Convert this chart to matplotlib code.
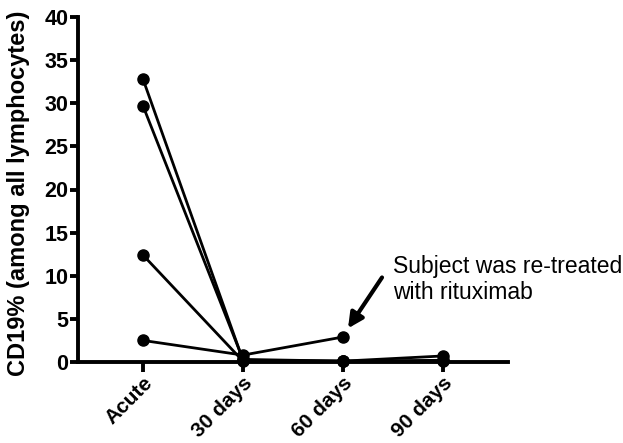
import numpy as np
import matplotlib
matplotlib.use("Agg")
import matplotlib.pyplot as plt

plt.rcParams['font.family'] = ['Liberation Sans', 'DejaVu Sans']

categories = ["Acute", "30 days", "60 days", "90 days"]
s1 = [32.8, 0.2, 0.1, 0.7]
s2 = [29.7, 0.3, 0.1, 0.2]
s3 = [12.4, 0.1, 0.1, 0.1]
s4 = [2.5, 0.8, 2.9, np.nan]
series = [s1, s2, s3, s4]
yticks = [0, 5, 10, 15, 20, 25, 30, 35, 40]

fig = plt.figure(figsize=(6.23, 4.43), dpi=100)
ax = fig.add_axes([78/623, 1-362/443, (508-78)/623, (362-17)/443])
x = np.arange(len(categories))
for s in series:
    ax.plot(x, s, color='black', lw=2.0, marker='o', ms=8, clip_on=False, zorder=3)

ax.set_xlim(-0.65, 3.65)
ax.set_ylim(0, 40)
ax.set_yticks(yticks)
ax.set_xticks(x)
ax.set_xticklabels(categories, rotation=45, ha='right', rotation_mode='anchor',
                   fontsize=15, fontweight='bold')
for lab in ax.get_yticklabels():
    lab.set_fontsize(15.5)
    lab.set_fontweight('bold')
ax.spines['top'].set_visible(False)
ax.spines['right'].set_visible(False)
ax.spines['left'].set_linewidth(2.8)
ax.spines['bottom'].set_linewidth(2.8)
ax.tick_params(axis='y', width=2.8, length=6, direction='out', pad=1)
ax.tick_params(axis='x', width=2.8, length=7, direction='out', pad=1)
ax.set_ylabel("CD19% (among all lymphocytes)", fontsize=17, fontweight='bold')
ax.yaxis.set_label_coords(-48/430, 0.49)

ax.text(2.5, 12.4, "Subject was re-treated\nwith rituximab", fontsize=16.5,
        ha='left', va='top', linespacing=1.15)
ax.annotate("", xy=(2.05, 3.9), xytext=(2.39, 9.8),
            arrowprops=dict(arrowstyle='-|>,head_length=0.9,head_width=0.45', color='black',
                            lw=3, shrinkA=0, shrinkB=0))
fig.savefig("out.png", dpi=100)
